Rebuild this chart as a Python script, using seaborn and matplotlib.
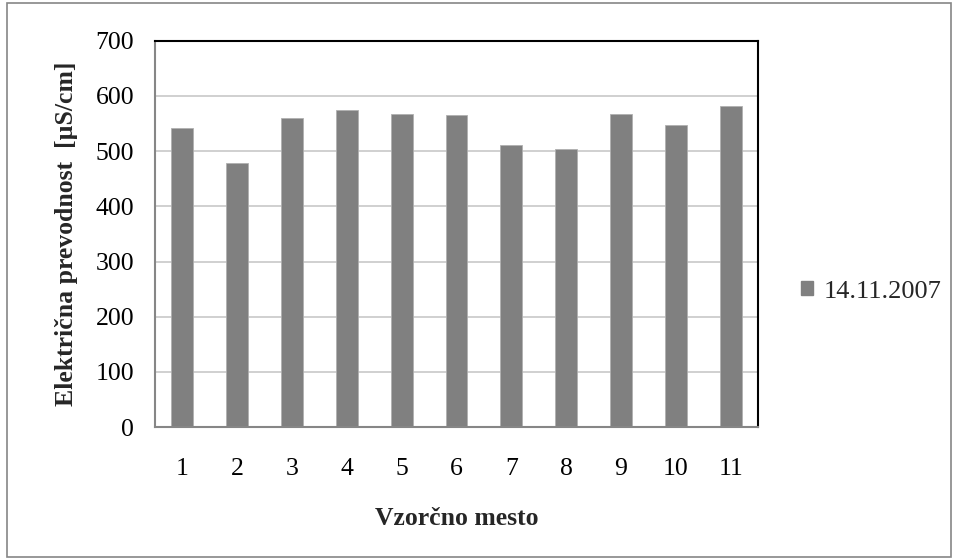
import matplotlib
matplotlib.use("Agg")
import matplotlib.pyplot as plt
import matplotlib.patches as mpatches
import pandas as pd
import seaborn as sns

# values
sites = ["1", "2", "3", "4", "5", "6", "7", "8", "9", "10", "11"]
conductivity = [542, 479, 560, 575, 567, 566, 511, 504, 567, 548, 582]
series_label = "14.11.2007"

BAR_COLOR = "#808080"
AXIS_GRAY = "#868686"
FS = 18.5


def main():
    df = pd.DataFrame({"site": sites, "value": conductivity})

    sns.set_theme(style="white")
    plt.rcParams["font.family"] = ["Liberation Serif", "DejaVu Serif"]

    fig = plt.figure(figsize=(9.54, 5.59), dpi=100)
    ax = fig.add_axes([0.1625, 0.236, 0.632, 0.691])

    sns.barplot(data=df, x="site", y="value", color=BAR_COLOR, width=0.4,
                saturation=1, edgecolor="#b0b0b0", linewidth=0.6, ax=ax)

    ax.set_ylim(0, 700)
    ax.set_xlim(-0.5, len(sites) - 0.5)
    ax.set_yticks(range(0, 701, 100))
    ax.yaxis.grid(True, color="#c8c8c8", linewidth=1.2)
    ax.set_axisbelow(True)

    # category boundary ticks on x axis
    ax.set_xticks([i - 0.5 for i in range(len(sites) + 1)], minor=True)
    ax.tick_params(axis="x", which="major", length=0, pad=22, labelsize=FS)
    ax.tick_params(axis="x", which="minor", length=5, width=1.2, direction="out")
    ax.tick_params(axis="y", length=5, width=1.2, direction="out", labelsize=FS, pad=10)
    ax.tick_params(axis="both", which="both", color=AXIS_GRAY, labelcolor="black")

    for side in ["left", "bottom"]:
        ax.spines[side].set_color(AXIS_GRAY)
        ax.spines[side].set_linewidth(1.5)
    for side in ["top", "right"]:
        ax.spines[side].set_color("black")
        ax.spines[side].set_linewidth(1.5)
        ax.spines[side].set_visible(True)

    ax.set_xlabel("Vzorčno mesto", fontsize=FS, fontweight="bold", labelpad=20)
    ax.set_ylabel("Električna prevodnost  [µS/cm]", fontsize=FS, fontweight="bold", labelpad=13)

    handle = mpatches.Patch(color=BAR_COLOR, label=series_label)
    fig.legend(handles=[handle], loc="center left", bbox_to_anchor=(0.84, 0.478),
               frameon=False, fontsize=19, handlelength=0.45, handleheight=0.45,
               handletextpad=0.4, borderpad=0, borderaxespad=0)

    # outer chart border
    fig.patches.append(mpatches.Rectangle((0.007, 0.004), 0.99, 0.99,
                                          transform=fig.transFigure, fill=False,
                                          edgecolor=AXIS_GRAY, linewidth=1.2))

    fig.savefig("out.png", dpi=100)


if __name__ == "__main__":
    main()
